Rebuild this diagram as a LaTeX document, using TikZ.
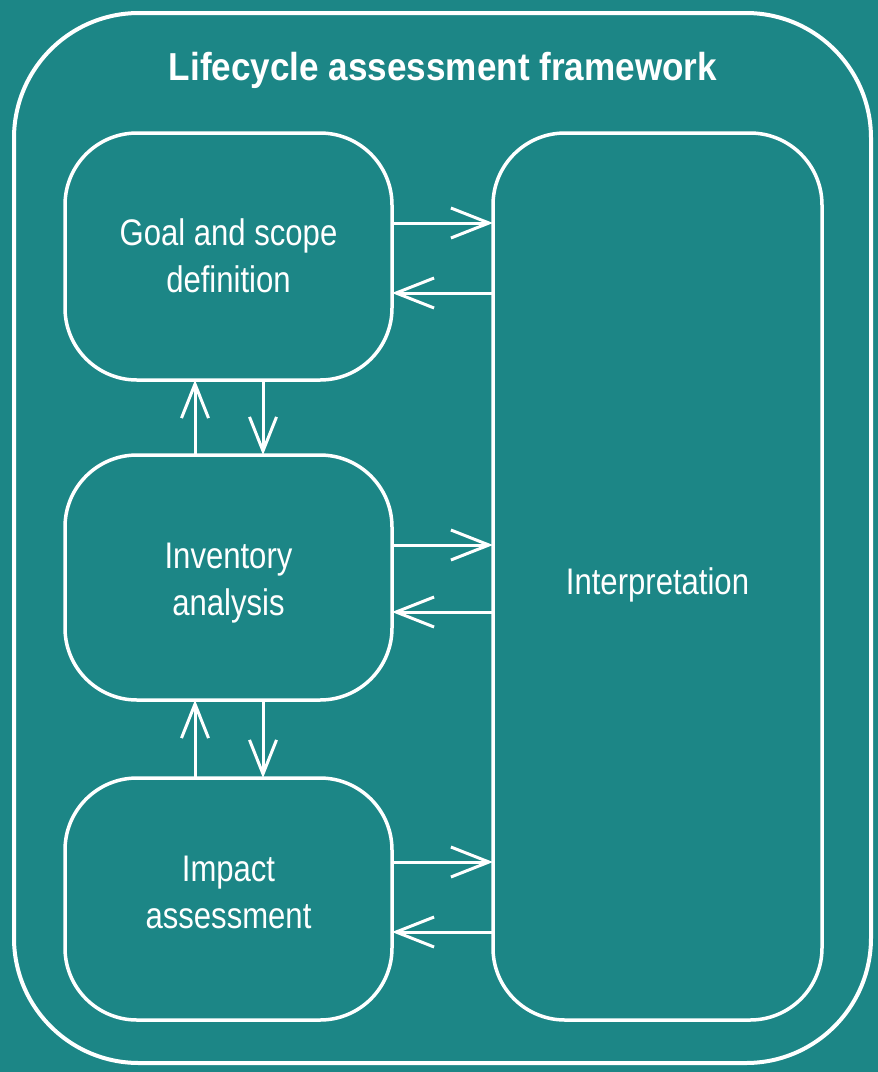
\documentclass[tikz,border=0pt]{standalone}
\usepackage{fontspec}
\setmainfont{Liberation Sans}[FakeStretch=0.84]
\newfontfamily\titlefont{Liberation Sans}[FakeStretch=0.9]
\usetikzlibrary{arrows.meta}
\definecolor{teal}{RGB}{28,134,134}
\tikzset{
  stage/.style={draw=white, line width=3.5pt, rounded corners=72pt, outer sep=0pt},
  label/.style={text=white, align=center, font=\fontsize{37}{47}\selectfont},
  harr/.style={draw=white, line width=3pt, -{Straight Barb[length=38pt,width=30pt,line width=3pt]}},
  varr/.style={draw=white, line width=3pt, -{Straight Barb[length=34pt,width=27pt,line width=3pt]}}
}
\begin{document}
\begin{tikzpicture}[x=1pt,y=-1pt]
\fill[teal] (0,0) rectangle (878,1072);
\useasboundingbox (0,0) rectangle (878,1072);
\draw[white, line width=4pt, rounded corners=125pt] (14,13) rectangle (871,1063);
\node[text=white, font=\titlefont\bfseries\fontsize{39}{47}\selectfont] (title) at (443,70) {Lifecycle assessment framework};
\node[stage, minimum width=327pt, minimum height=247pt] (goal) at (228.5,256.5) {};
\node[stage, minimum width=327pt, minimum height=245pt] (inv) at (228.5,577.5) {};
\node[stage, minimum width=327pt, minimum height=242pt] (imp) at (228.5,899) {};
\node[stage, minimum width=329pt, minimum height=887pt] (interp) at (657.5,576.5) {};
\node[label] (goalt) at ([yshift=1pt]goal.center) {Goal and scope\\definition};
\node[label] (invt) at ([yshift=-6pt]inv.center) {Inventory\\analysis};
\node[label] (impt) at ([yshift=7pt]imp.center) {Impact\\assessment};
\node[label] (interpt) at ([yshift=-8pt]interp.center) {Interpretation};
% horizontal arrows
\draw[harr] (goal.east |- 0,223) -- (interp.west |- 0,223);
\draw[harr] (interp.west |- 0,293) -- (goal.east |- 0,293);
\draw[harr] (inv.east |- 0,545) -- (interp.west |- 0,545);
\draw[harr] (interp.west |- 0,612) -- (inv.east |- 0,612);
\draw[harr] (imp.east |- 0,862) -- (interp.west |- 0,862);
\draw[harr] (interp.west |- 0,932) -- (imp.east |- 0,932);
% vertical arrows
\draw[varr] (inv.north -| 195,0) -- (goal.south -| 195,0);
\draw[varr] (goal.south -| 263,0) -- (inv.north -| 263,0);
\draw[varr] (imp.north -| 195,0) -- (inv.south -| 195,0);
\draw[varr] (inv.south -| 263,0) -- (imp.north -| 263,0);
\end{tikzpicture}
\end{document}
